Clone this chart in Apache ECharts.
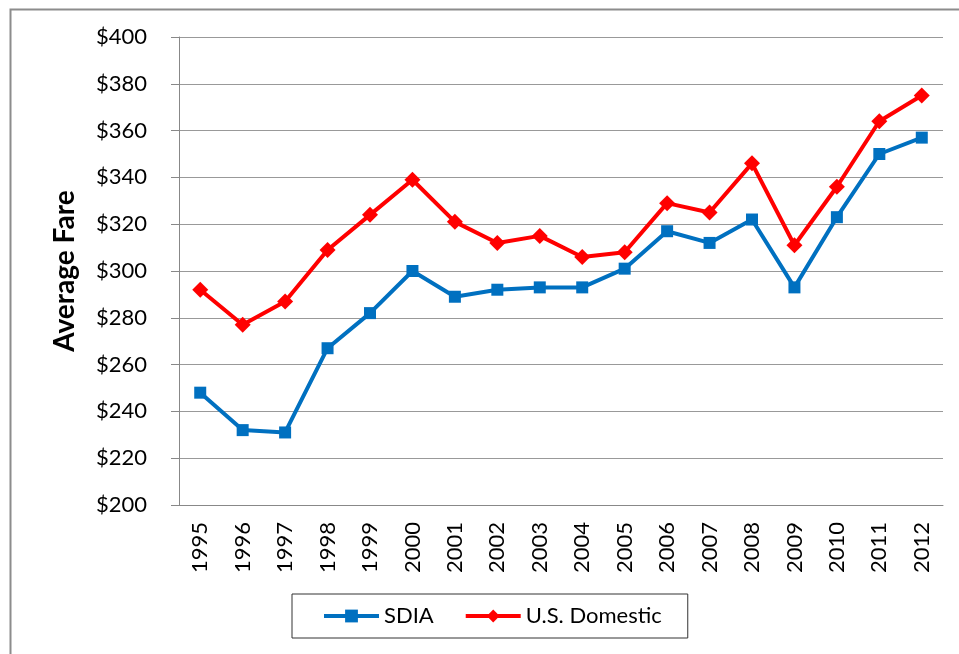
<!DOCTYPE html>
<html>
<head>
<meta charset="utf-8">
<script src="https://cdn.jsdelivr.net/npm/echarts@6/dist/echarts.min.js"></script>
<style>
	html, body { margin: 0; padding: 0; background: #fff; }
	#fareChart { width: 959px; height: 654px; }
</style>
</head>
<body>
<div id="fareChart"></div>
<script>
	var years = ['1995', '1996', '1997', '1998', '1999', '2000', '2001', '2002', '2003',
		'2004', '2005', '2006', '2007', '2008', '2009', '2010', '2011', '2012'];
	var sdia = [248, 232, 231, 267, 282, 300, 289, 292, 293, 293, 301, 317, 312, 322, 293, 323, 350, 357];
	var usDomestic = [292, 277, 287, 309, 324, 339, 321, 312, 315, 306, 308, 329, 325, 346, 311, 336, 364, 375];
	var yTicks = [200, 400, 20]; // min, max, step

	var font = 'Lato, "Open Sans", sans-serif';
	var fareChart = echarts.init(document.getElementById('fareChart'));
	var option = {
		animation: false,
		graphic: [{
			type: 'rect',
			left: 8,
			top: 7,
			shape: { width: 1000, height: 700 },
			style: { fill: 'none', stroke: '#8c8c8c', lineWidth: 2 }
		}],
		legend: {
			left: 292,
			top: 594,
			padding: [11, 26, 11, 30],
			itemGap: 30,
			itemWidth: 55,
			itemHeight: 16,
			borderColor: '#333',
			borderWidth: 1,
			lineStyle: { width: 4 },
			textStyle: { fontFamily: font, fontSize: 22, color: '#000' },
			data: ['SDIA', 'U.S. Domestic']
		},
		grid: {
			left: 179,
			right: 16,
			top: 37,
			bottom: 149
		},
		xAxis: {
			type: 'category',
			data: years,
			boundaryGap: true,
			axisLine: { lineStyle: { color: '#888', width: 1 } },
			axisTick: { length: 10, lineStyle: { color: '#888' } },
			axisLabel: { rotate: 90, margin: 17, fontFamily: font, fontSize: 22, color: '#000' }
		},
		yAxis: {
			type: 'value',
			min: yTicks[0],
			max: yTicks[1],
			interval: yTicks[2],
			name: 'Average Fare',
			nameLocation: 'middle',
			nameGap: 100,
			nameTextStyle: { fontFamily: font, fontSize: 28, fontWeight: 'bold', color: '#000' },
			axisLine: { show: true, lineStyle: { color: '#888', width: 1 } },
			axisTick: { show: true, length: 8, lineStyle: { color: '#888' } },
			splitLine: { lineStyle: { color: '#999', width: 1 } },
			axisLabel: {
				margin: 32,
				fontFamily: font,
				fontSize: 22,
				color: '#000',
				formatter: function (v) { return '$' + v; }
			}
		},
		series: [
			{
				name: 'SDIA',
				type: 'line',
				data: sdia,
				symbol: 'rect',
				symbolSize: 12,
				itemStyle: { color: '#0070C0' },
				lineStyle: { color: '#0070C0', width: 4 }
			},
			{
				name: 'U.S. Domestic',
				type: 'line',
				data: usDomestic,
				symbol: 'diamond',
				symbolSize: 16,
				itemStyle: { color: '#FF0000' },
				lineStyle: { color: '#FF0000', width: 4 }
			}
		]
	};
	fareChart.setOption(option, true);
</script>
</body>
</html>
